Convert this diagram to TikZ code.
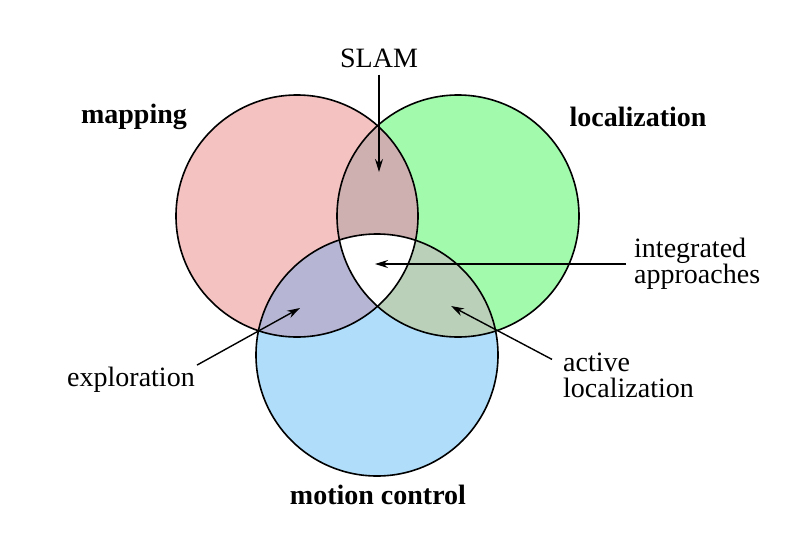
\documentclass[tikz,border=0pt]{standalone}
\usepackage{fontspec}
\setmainfont{Liberation Serif}
\usetikzlibrary{arrows.meta}

\definecolor{mapfill}{RGB}{245,194,194}
\definecolor{locfill}{RGB}{162,250,172}
\definecolor{motfill}{RGB}{176,222,250}
\definecolor{slamfill}{RGB}{206,176,176}
\definecolor{explfill}{RGB}{182,182,212}
\definecolor{actfill}{RGB}{186,208,184}

\begin{document}
\begin{tikzpicture}[x=1pt, y=-1pt,
    lbl/.style={
        font=\fontsize{28}{26}\selectfont,
        inner sep=2pt
    },
    head/.style={
        lbl,
        font=\fontsize{28}{26}\selectfont\bfseries
    },
    ring/.style={draw=black, line width=1.6pt},
    pointer/.style={->, line width=1.4pt},
    >={Stealth[length=13pt, width=8pt]}
]
\useasboundingbox (0,0) rectangle (794,536);

% circle centres
\coordinate (cmap) at (297,216);
\coordinate (cloc) at (458,216);
\coordinate (cmot) at (377,355);

\fill[mapfill] (cmap) circle[radius=121];
\fill[locfill] (cloc) circle[radius=121];
\fill[motfill] (cmot) circle[radius=121];
\begin{scope}
    \clip (cmap) circle[radius=121];
    \fill[slamfill] (cloc) circle[radius=121];
    \fill[explfill] (cmot) circle[radius=121];
\end{scope}
\begin{scope}
    \clip (cloc) circle[radius=121];
    \fill[actfill] (cmot) circle[radius=121];
\end{scope}
\begin{scope}
    \clip (cmap) circle[radius=121];
    \clip (cloc) circle[radius=121];
    \fill[white] (cmot) circle[radius=121];
\end{scope}
\draw[ring] (cmap) circle[radius=121];
\draw[ring] (cloc) circle[radius=121];
\draw[ring] (cmot) circle[radius=121];

\node[head] (mapping) at (134,117) {mapping};
\node[head] (localization) at (638,117) {localization};
\node[head] (motion) at (378,495) {motion control};

\node[lbl] (slam) at (379,58) {SLAM};
\node[lbl, anchor=west, align=left] (intg) at (632,264) {integrated\\approaches};
\node[lbl] (expl) at (131,380) {exploration};
\node[lbl, anchor=west, align=left] (act) at (561,375) {active\\localization};

\coordinate (slamtip) at (379,172);
\coordinate (intgtip) at (375,264);
\coordinate (expltip) at (300,308);
\coordinate (acttip) at (451,306);

\draw[pointer, shorten <=5pt] (slam.south) -- (slamtip);
\draw[pointer, shorten <=6pt] (intg.west) -- (intgtip);
\draw[pointer] (expl.north east) -- (expltip);
\draw[pointer] ([xshift=-9pt, yshift=-9pt]act.north west) -- (acttip);
\end{tikzpicture}
\end{document}
